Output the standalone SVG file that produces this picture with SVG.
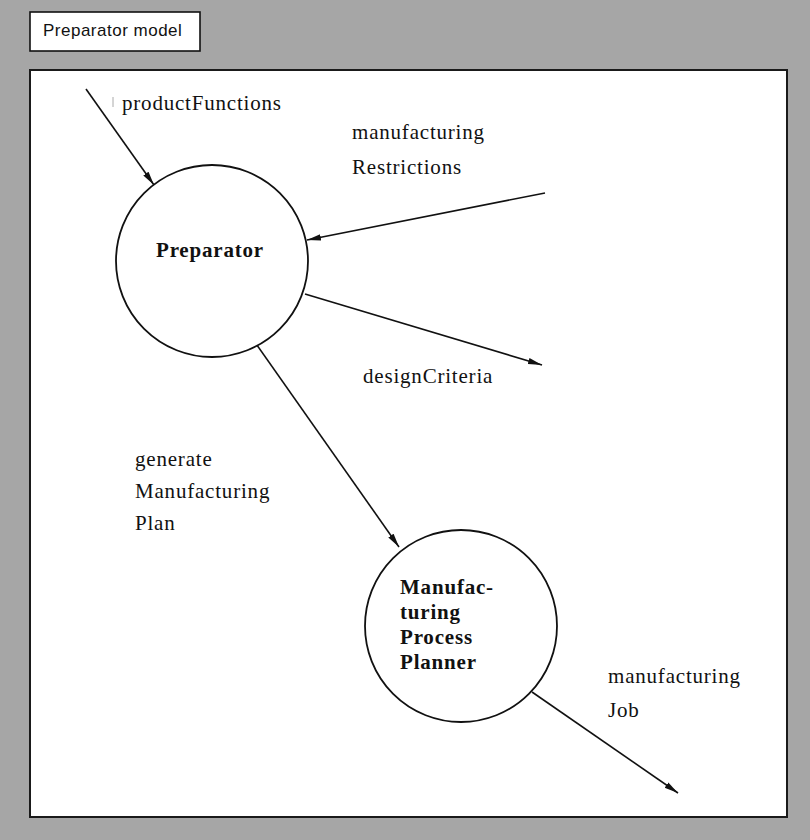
<svg xmlns="http://www.w3.org/2000/svg" width="810" height="840" viewBox="0 0 810 840">
  <defs>
    <marker id="arrow" viewBox="0 0 14 8" refX="14" refY="4" markerWidth="14" markerHeight="8" markerUnits="userSpaceOnUse" orient="auto">
      <path d="M0,0.8 L14,4 L0,7.2 Z" fill="#111"/>
    </marker>
  </defs>
  <style>
    .flow { stroke: #111; stroke-width: 1.6; fill: none; marker-end: url(#arrow); }
    .node { fill: #fff; stroke: #111; stroke-width: 1.8; }
    .lbl { font-family: "Liberation Serif", "Times New Roman", serif; font-size: 21px; letter-spacing: 0.8px; fill: #111; }
    .name { font-family: "Liberation Serif", "Times New Roman", serif; font-size: 21px; font-weight: bold; letter-spacing: 0.8px; fill: #111; }
    .title { font-family: "Liberation Sans", Arial, sans-serif; font-size: 17px; letter-spacing: 0.5px; fill: #111; }
  </style>

  <!-- page background and frame -->
  <rect x="0" y="0" width="810" height="840" fill="#a6a6a6"/>
  <rect x="30" y="70" width="757" height="747" fill="#fff" stroke="#1a1a1a" stroke-width="2"/>

  <!-- title tab -->
  <g id="title">
    <rect x="30" y="12" width="170" height="39" fill="#fff" stroke="#111" stroke-width="1.6"/>
    <text class="title" x="43" y="36">Preparator model</text>
  </g>

  <!-- connectors -->
  <g id="connectors">
    <line class="flow" x1="86" y1="89" x2="154" y2="185"/>
    <line class="flow" x1="545" y1="193" x2="307" y2="240"/>
    <line class="flow" x1="305" y1="294" x2="542" y2="365"/>
    <line class="flow" x1="252" y1="338" x2="399" y2="547"/>
    <line class="flow" x1="532" y1="692" x2="678" y2="793"/>
    <line x1="113" y1="97" x2="113" y2="107" stroke="#aaa" stroke-width="1"/>
  </g>

  <!-- connector labels -->
  <g id="labels">
    <text class="lbl" x="122" y="110">productFunctions</text>
    <text class="lbl" x="352" y="139">manufacturing</text>
    <text class="lbl" x="352" y="174">Restrictions</text>
    <text class="lbl" x="363" y="383">designCriteria</text>
    <text class="lbl" x="135" y="466">generate</text>
    <text class="lbl" x="135" y="498">Manufacturing</text>
    <text class="lbl" x="135" y="530">Plan</text>
    <text class="lbl" x="608" y="683">manufacturing</text>
    <text class="lbl" x="608" y="717">Job</text>
  </g>

  <!-- Preparator node -->
  <g id="preparator">
    <circle class="node" cx="212" cy="261" r="96"/>
    <text class="name" x="156" y="257">Preparator</text>
  </g>

  <!-- Manufacturing Process Planner node -->
  <g id="planner">
    <circle class="node" cx="461" cy="626" r="96"/>
    <text class="name" x="400" y="594">Manufac-</text>
    <text class="name" x="400" y="619">turing</text>
    <text class="name" x="400" y="644">Process</text>
    <text class="name" x="400" y="669">Planner</text>
  </g>
</svg>
